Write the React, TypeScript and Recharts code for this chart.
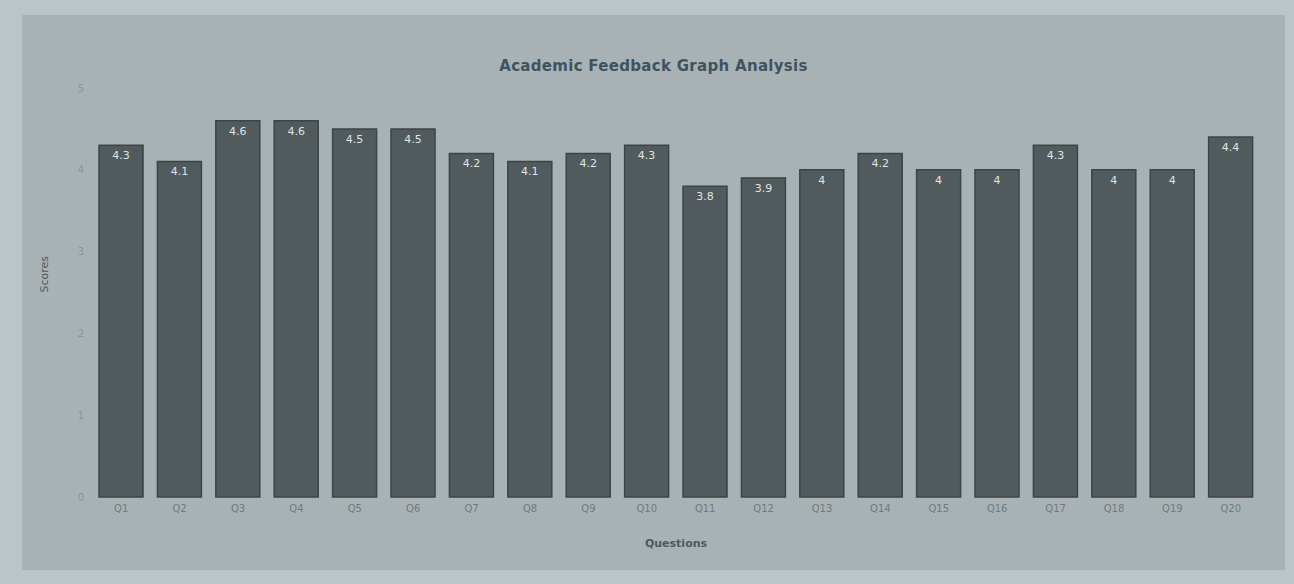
import { BarChart, Bar, XAxis, YAxis, LabelList } from 'recharts';

const questions = ['Q1', 'Q2', 'Q3', 'Q4', 'Q5', 'Q6', 'Q7', 'Q8', 'Q9', 'Q10', 'Q11', 'Q12', 'Q13', 'Q14', 'Q15', 'Q16', 'Q17', 'Q18', 'Q19', 'Q20'];
const scores = [4.3, 4.1, 4.6, 4.6, 4.5, 4.5, 4.2, 4.1, 4.2, 4.3, 3.8, 3.9, 4, 4.2, 4, 4, 4.3, 4, 4, 4.4];
const yTicks = [0, 1, 2, 3, 4, 5];

const chartData = questions.map((q, i) => ({ question: q, score: scores[i] }));

const font = '"DejaVu Sans", Verdana, sans-serif';

export default function App() {
  return (
    <div style={{ position: 'fixed', left: 0, top: 0, width: 1294, height: 584, background: '#bac5c9', fontFamily: font }}>
      <div style={{ position: 'absolute', left: 22, top: 15, width: 1263, height: 555, background: '#a8b2b5' }}>
        <div style={{ position: 'absolute', left: 0, right: 0, top: 42, textAlign: 'center', fontSize: 15, fontWeight: 'bold', color: '#3f5260', letterSpacing: 0.3 }}>
          Academic Feedback Graph Analysis
        </div>
        <BarChart
          width={1263}
          height={555}
          data={chartData}
          margin={{ top: 73, right: 25, left: 0, bottom: 0 }}
          barCategoryGap="12%"
        >
          <XAxis
            dataKey="question"
            axisLine={false}
            tickLine={false}
            tick={{ fill: '#6f7a7e', fontSize: 10, fontFamily: font }}
            height={73}
            label={{ value: 'Questions', position: 'insideTop', offset: 42, fill: '#4b5a62', fontSize: 11, fontFamily: font, fontWeight: 'bold' }}
          />
          <YAxis
            domain={[0, 5]}
            ticks={yTicks}
            axisLine={false}
            tickLine={false}
            width={70}
            tick={{ fill: '#8a9497', fontSize: 10, fontFamily: font }}
            label={{ value: 'Scores', angle: -90, position: 'insideLeft', offset: 22, fill: '#4b5a62', fontSize: 11, fontFamily: font }}
          />
          <Bar dataKey="score" fill="#515a5d" stroke="#3c4447" strokeWidth={1.5} isAnimationActive={false}>
            <LabelList dataKey="score" position="insideTop" offset={6} fill="#dfe4e6" fontSize={11} fontFamily={font} />
          </Bar>
        </BarChart>
      </div>
    </div>
  );
}
